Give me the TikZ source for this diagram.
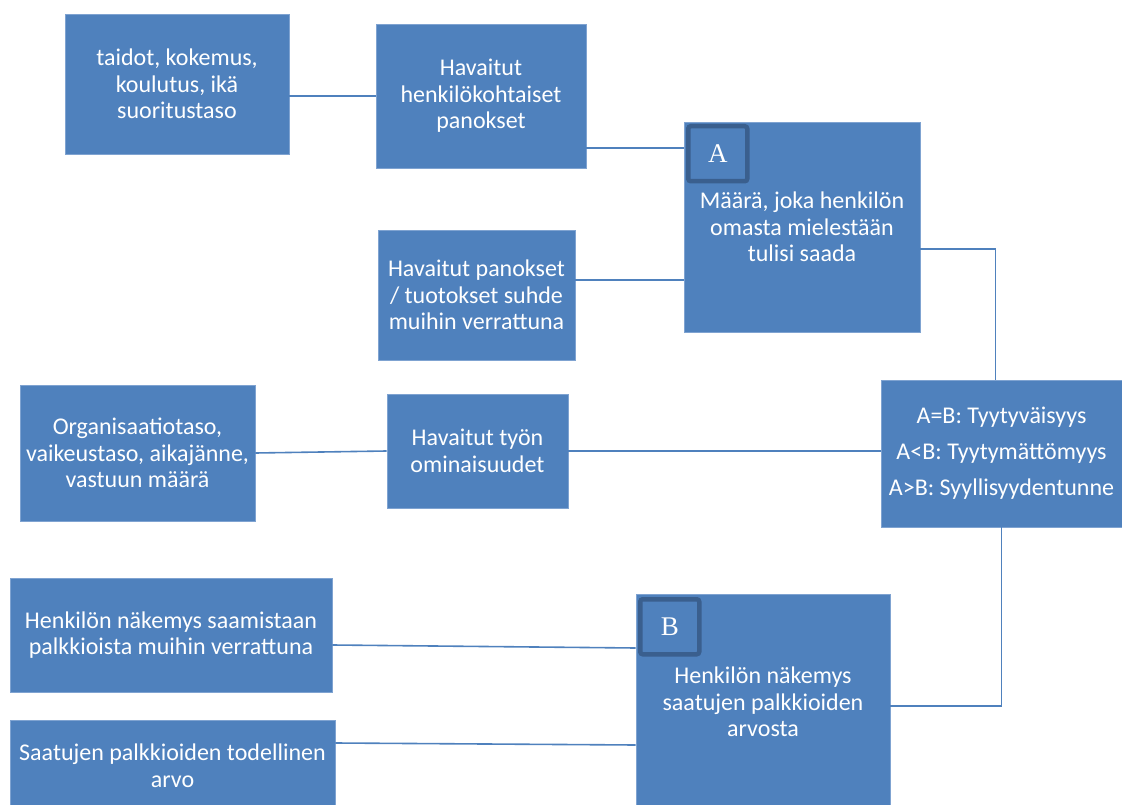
\documentclass[tikz,border=0pt]{standalone}
\usepackage{fontspec}
\setmainfont{Carlito}
\newfontfamily\kirjainfont{Liberation Serif}
\usepackage{xcolor}
\usepackage{tikz}
\usetikzlibrary{calc, positioning}

\definecolor{laatikko}{HTML}{4F81BD}
\definecolor{reuna}{HTML}{7FA3D1}
\definecolor{tumma}{HTML}{3A5F8E}

\begin{document}
\begin{tikzpicture}[x=1pt, y=-1pt,
    laatikko/.style={rectangle, fill=laatikko, draw=reuna, line width=0.8pt,
        text=white, align=center, inner sep=0pt,
        font=\fontsize{24}{26.5}\selectfont},
    kirjain/.style={rectangle, fill=laatikko, draw=tumma, line width=4.5pt,
        rounded corners=2.5pt, minimum width=59pt, minimum height=55pt,
        text=white, font=\kirjainfont\fontsize{27}{27}\selectfont},
    viiva/.style={draw=laatikko, line width=1.6pt}]
    % Kuvan rajat kuten alkuperäisessä
    \useasboundingbox (0,0) rectangle (1122,805);

    % Vasemman reunan laatikot
    \node[laatikko, minimum width=224pt, minimum height=140pt] (taidot) at (177,84)
        {taidot, kokemus,\\koulutus, ikä\\suoritustaso};
    \node[laatikko, minimum width=235pt, minimum height=136pt] (org) at (137.5,453)
        {Organisaatiotaso,\\vaikeustaso, aikajänne,\\vastuun määrä};
    \node[laatikko, minimum width=322pt, minimum height=114pt] (nakemys) at (171,635)
        {Henkilön näkemys saamistaan\\palkkioista muihin verrattuna};
    \node[laatikko, minimum width=325pt, minimum height=92pt] (arvo) at (172.5,766)
        {Saatujen palkkioiden todellinen\\arvo};

    % Keskimmäiset laatikot
    \node[laatikko, minimum width=210pt, minimum height=144pt] (panokset) at (481,96)
        {Havaitut\\henkilökohtaiset\\panokset};
    \node[laatikko, minimum width=197pt, minimum height=130pt] (suhde) at (476.5,295)
        {Havaitut panokset\\/ tuotokset suhde\\muihin verrattuna};
    \node[laatikko, minimum width=181pt, minimum height=114pt] (tyon) at (477.5,451)
        {Havaitut työn\\ominaisuudet};

    % Laatikot A ja B
    \node[laatikko, minimum width=236pt, minimum height=210pt] (A) at (802,227)
        {Määrä, joka henkilön\\omasta mielestään\\tulisi saada};
    \node[laatikko, minimum width=254pt, minimum height=216pt] (B) at (763,702)
        {Henkilön näkemys\\saatujen palkkioiden\\arvosta};
    \node[kirjain, anchor=north west] (kirjainA) at (686,124) {A};
    \node[kirjain, anchor=north west] (kirjainB) at (638,597) {B};

    % Tulos
    \node[laatikko, minimum width=241pt, minimum height=147pt,
        font=\fontsize{24}{36}\selectfont] (tulos) at (1001.5,453.5)
        {A=B: Tyytyväisyys\\A<B: Tyytymättömyys\\A>B: Syyllisyydentunne};

    % Yhdysviivat
    \draw[viiva] (panokset.west) -- (panokset.west -| taidot.east);
    \draw[viiva] ([yshift=-52pt]panokset.east) -- ([yshift=-52pt]panokset.east -| A.west);
    \draw[viiva] ([yshift=15pt]suhde.east) -- ([yshift=15pt]suhde.east -| A.west);
    \draw[viiva] ([yshift=-22pt]A.east) -| ([xshift=-6pt]tulos.north);
    \draw[viiva] (org.east) -- (tyon.west);
    \draw[viiva] (tyon.east) -- (tyon.east -| tulos.west);
    \draw[viiva] ([yshift=-10pt]nakemys.east) -- ([yshift=54pt]B.west);
    \draw[viiva] ([yshift=23pt]arvo.east) -- ([yshift=-43pt]B.west);
    \draw[viiva] ([yshift=-4pt]B.east) -| (tulos.south);
\end{tikzpicture}
\end{document}
